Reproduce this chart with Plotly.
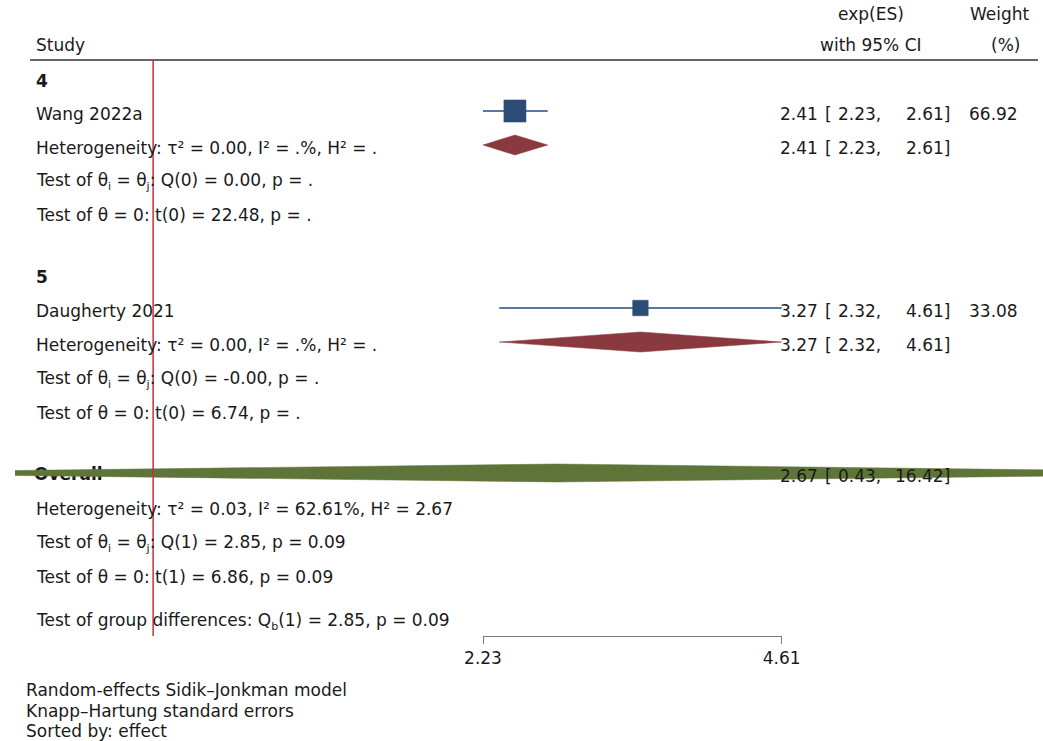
import math
import plotly.graph_objects as go

# ---- study-level results (exp scale) ----
study_names = ["Wang 2022a", "Daugherty 2021"]
study_es = [2.41, 3.27]
study_lo = [2.23, 2.32]
study_hi = [2.61, 4.61]
study_weight = [66.92, 33.08]

# ---- subgroup pooled results ----
group_labels = ["4", "5"]
group_es = [2.41, 3.27]
group_lo = [2.23, 2.32]
group_hi = [2.61, 4.61]
group_het = [
    "Heterogeneity: τ² = 0.00, I² = .%, H² = .",
    "Heterogeneity: τ² = 0.00, I² = .%, H² = .",
]
SUB_I = "<sub><span style='font-size:11px;color:#1a1a1a'>i</span></sub>"
SUB_J = "<sub><span style='font-size:11px;color:#1a1a1a'>j</span></sub>"
SUB_B = "<sub><span style='font-size:11px;color:#1a1a1a'>b</span></sub>"
group_q = [
    f"Test of θ{SUB_I} = θ{SUB_J}: Q(0) = 0.00, p = .",
    f"Test of θ{SUB_I} = θ{SUB_J}: Q(0) = -0.00, p = .",
]
group_t = [
    "Test of θ = 0: t(0) = 22.48, p = .",
    "Test of θ = 0: t(0) = 6.74, p = .",
]

# ---- overall pooled result ----
overall_es = 2.67
overall_lo = 0.43
overall_hi = 16.42
overall_het = "Heterogeneity: τ² = 0.03, I² = 62.61%, H² = 2.67"
overall_q = f"Test of θ{SUB_I} = θ{SUB_J}: Q(1) = 2.85, p = 0.09"
overall_t = "Test of θ = 0: t(1) = 6.86, p = 0.09"
group_diff = f"Test of group differences: Q{SUB_B}(1) = 2.85, p = 0.09"

axis_ticks = [2.23, 4.61]
notes = [
    "Random-effects Sidik–Jonkman model",
    "Knapp–Hartung standard errors",
    "Sorted by: effect",
]

# ---- layout constants ----
W, H = 1043, 741
FONT = "DejaVu Sans"
FS = 17
FS_NOTE = 17
TXT = "#1a1a1a"
PLOT_L = 15                      # left edge of the clipping area (px)
AX_L_PX, AX_R_PX = 483, 781.7     # pixel extent of the tick range
PX_PER_DEC = (AX_R_PX - AX_L_PX) / math.log10(axis_ticks[1] / axis_ticks[0])
X_LEFT = math.log10(axis_ticks[0]) - (AX_L_PX - PLOT_L) / PX_PER_DEC
X_RIGHT = math.log10(axis_ticks[0]) + (W - AX_L_PX) / PX_PER_DEC
AXIS_Y = 636
HEAD_Y = 60

# row centres (y axis runs in pixel units, top to bottom)
Y_GROUP = [81, 277]
Y_STUDY = [114, 311]
Y_HET = [148, 345]
Y_Q = [181, 379]
Y_T = [215, 413]
Y_OVERALL = 476
Y_OHET, Y_OQ, Y_OT, Y_DIFF = 509, 543, 577, 621
MARK_SHIFT = -3

SQUARE_C = "#2c4c76"
CI_C = "#5878a0"
SUB_C = "#8a3a3f"
ALL_C = "#5f7439"
NULL_C = "#c8303c"


def px_to_x(px):
    return 10 ** (X_LEFT + (px - PLOT_L) / PX_PER_DEC)


def diamond(lo, es, hi, y, h, color):
    return go.Scatter(
        x=[lo, es, hi, es, lo], y=[y, y - h, y, y + h, y],
        mode="lines", fill="toself", fillcolor=color,
        line=dict(color=color, width=0.5), hoverinfo="skip",
    )


fig = go.Figure()

# "Overall" label sits beneath the overall diamond
fig.add_trace(go.Scatter(
    x=[px_to_x(34)], y=[Y_OVERALL], mode="text", text=["<b>Overall</b>"],
    textposition="middle right", textfont=dict(family=FONT, size=FS, color=TXT),
    hoverinfo="skip", cliponaxis=False,
))

# study CIs and weighted squares
for i in range(len(study_names)):
    ym = Y_STUDY[i] + MARK_SHIFT
    fig.add_trace(go.Scatter(
        x=[study_lo[i], study_hi[i]], y=[ym, ym], mode="lines",
        line=dict(color=CI_C, width=2), hoverinfo="skip",
    ))
    fig.add_trace(go.Scatter(
        x=[study_es[i]], y=[ym], mode="markers",
        marker=dict(symbol="square", size=2.7 * math.sqrt(study_weight[i]),
                    color=SQUARE_C, line=dict(color=SQUARE_C, width=0.5)),
        hoverinfo="skip",
    ))

# subgroup diamonds
for i in range(len(group_labels)):
    fig.add_trace(diamond(group_lo[i], group_es[i], group_hi[i],
                          Y_HET[i] + MARK_SHIFT, 10, SUB_C))

# overall diamond
fig.add_trace(diamond(overall_lo, overall_es, overall_hi,
                      Y_OVERALL + MARK_SHIFT, 9, ALL_C))

# carrier for the visible x axis
fig.add_trace(go.Scatter(
    x=axis_ticks, y=[AXIS_Y, AXIS_Y], xaxis="x2", yaxis="y",
    mode="markers", marker=dict(opacity=0), hoverinfo="skip",
))

ann = []


def text(x, y, s, anchor="left", bold=False, size=FS):
    ann.append(dict(
        x=x / W, xref="paper", y=y, yref="y", text=f"<b>{s}</b>" if bold else s,
        showarrow=False, xanchor=anchor, yanchor="middle",
        font=dict(family=FONT, size=size, color=TXT),
    ))


def ci_text(y, es, lo, hi, weight=None):
    text(820, y, f"{es:.2f}", "right")
    text(823, y, "[", "left")
    text(883, y, f"{lo:.2f},", "right")
    text(952, y, f"{hi:.2f}]", "right")
    if weight is not None:
        text(1020, y, f"{weight:.2f}", "right")


# header
text(34, 45, "Study")
text(871, 14, "exp(ES)", "center")
text(871, 45, "with 95% CI", "center")
text(1000, 14, "Weight", "center")
text(1005, 45, "(%)", "center")

for i in range(len(group_labels)):
    text(34, Y_GROUP[i], group_labels[i], bold=True)
    text(34, Y_STUDY[i], study_names[i])
    ci_text(Y_STUDY[i], study_es[i], study_lo[i], study_hi[i], study_weight[i])
    text(34, Y_HET[i], group_het[i])
    ci_text(Y_HET[i], group_es[i], group_lo[i], group_hi[i])
    text(34, Y_Q[i], group_q[i])
    text(34, Y_T[i], group_t[i])

ci_text(Y_OVERALL, overall_es, overall_lo, overall_hi)
text(34, Y_OHET, overall_het)
text(34, Y_OQ, overall_q)
text(34, Y_OT, overall_t)
text(34, Y_DIFF, group_diff)

for k, s in enumerate(notes):
    text(24, 690 + 20.5 * k, s, size=FS_NOTE)

shapes = [
    dict(type="line", xref="paper", yref="y", x0=30 / W, x1=1038 / W,
         y0=HEAD_Y, y1=HEAD_Y, line=dict(color="#333333", width=1.5)),
    dict(type="line", xref="x", yref="y", x0=1, x1=1, y0=HEAD_Y, y1=AXIS_Y,
         line=dict(color=NULL_C, width=1.5), layer="above"),
]

fig.update_layout(
    template="none",
    width=W, height=H, margin=dict(l=0, r=0, t=0, b=0, pad=0, autoexpand=False),
    paper_bgcolor="white", plot_bgcolor="rgba(0,0,0,0)", showlegend=False,
    xaxis=dict(type="log", domain=[PLOT_L / W, 1], range=[X_LEFT, X_RIGHT],
               visible=False, fixedrange=True, automargin=False),
    yaxis=dict(range=[H, 0], domain=[0, 1], visible=False, fixedrange=True,
               automargin=False),
    xaxis2=dict(type="log", domain=[AX_L_PX / W, AX_R_PX / W],
                range=[math.log10(axis_ticks[0]) - 1e-6, math.log10(axis_ticks[1]) + 1e-6],
                anchor="free", position=(H - AXIS_Y) / H, automargin=False,
                showline=True, linecolor="#7a7a7a", linewidth=1,
                ticks="outside", ticklen=7, tickcolor="#7a7a7a", tickwidth=1,
                tickvals=axis_ticks, ticktext=[f"{v:.2f}" for v in axis_ticks],
                tickfont=dict(family=FONT, size=FS_NOTE, color=TXT),
                showgrid=False, zeroline=False, fixedrange=True),
    annotations=ann, shapes=shapes,
)

fig.write_html("out.html")
